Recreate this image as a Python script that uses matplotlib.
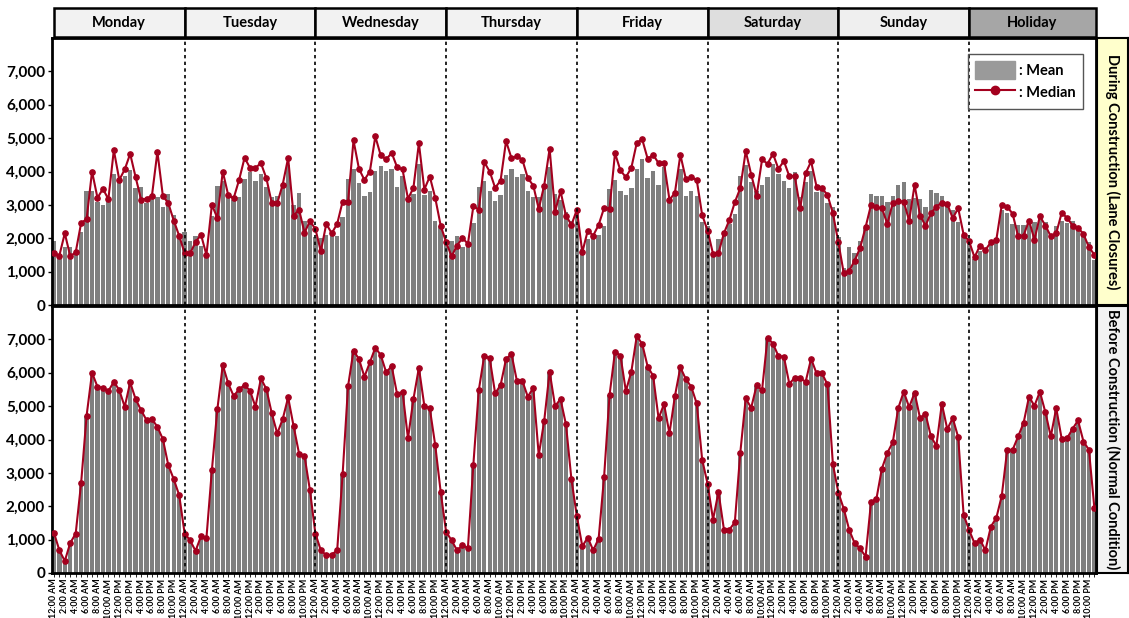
import matplotlib.pyplot as plt
import matplotlib.patches as mpatches
from matplotlib.lines import Line2D
from matplotlib.ticker import FuncFormatter
import numpy as np

plt.rcParams['font.family'] = ['Lato', 'DejaVu Sans']
plt.rcParams['font.weight'] = 'bold'

# Data (hourly traffic volume, 24 values per day)
days = ['Monday', 'Tuesday', 'Wednesday', 'Thursday', 'Friday', 'Saturday', 'Sunday', 'Holiday']
hour_labels = ['12:00 AM', '2:00 AM', '4:00 AM', '6:00 AM', '8:00 AM', '10:00 AM',
               '12:00 PM', '2:00 PM', '4:00 PM', '6:00 PM', '8:00 PM', '10:00 PM']

during_median = [
    [1550, 1480, 2150, 1460, 1580, 2460, 2570, 4000, 3210, 3480, 3170, 4640, 3750, 4060, 4530, 3830, 3160, 3180, 3280, 4590, 3270, 3050, 2530, 2070],
    [1550, 1550, 1880, 2110, 1500, 3000, 2610, 4000, 3290, 3200, 3750, 4410, 4110, 4110, 4250, 3800, 3050, 3050, 3610, 4410, 2670, 2860, 2170, 2510],
    [2280, 1610, 2430, 2150, 2430, 3100, 3100, 4930, 4080, 3750, 4000, 5050, 4480, 4360, 4560, 4130, 4060, 3180, 3510, 4850, 3460, 3850, 3210, 2380],
    [1880, 1460, 1780, 2010, 1830, 2960, 2860, 4280, 4000, 3510, 3730, 4910, 4400, 4460, 4350, 3800, 3580, 2880, 3580, 4680, 2800, 3410, 2680, 2400],
    [2850, 1580, 2230, 2080, 2400, 2910, 2890, 4550, 4030, 3830, 4110, 4860, 4960, 4380, 4500, 4250, 4260, 3150, 3360, 4500, 3780, 3830, 3750, 2700],
    [2230, 1530, 1560, 2150, 2550, 3080, 3500, 4610, 3910, 3280, 4360, 4230, 4530, 4080, 4310, 3860, 3860, 2900, 3950, 4300, 3550, 3500, 3300, 2750],
    [1880, 950, 1030, 1330, 1710, 2330, 3000, 2930, 2900, 2430, 3060, 3110, 3100, 2530, 3600, 2680, 2380, 2750, 2950, 3060, 3030, 2600, 2900, 2110],
    [1910, 1430, 1780, 1650, 1880, 1950, 3000, 2950, 2730, 2060, 2080, 2530, 1960, 2660, 2380, 2060, 2150, 2760, 2610, 2380, 2310, 2130, 1730, 1510],
]
during_mean = [
    [1910, 1500, 1750, 1750, 1580, 2180, 3430, 3430, 3080, 3010, 3080, 3930, 3780, 3880, 4050, 3500, 3540, 3050, 3180, 3250, 2930, 3340, 2700, 2030],
    [2180, 1910, 2070, 1780, 1500, 2680, 3580, 3710, 3210, 3150, 3250, 3780, 3980, 3710, 3930, 3550, 3250, 3280, 3600, 4200, 3000, 3350, 2530, 2530],
    [2030, 2000, 2100, 2080, 2080, 2650, 3780, 4060, 3650, 3280, 3400, 4010, 4160, 4010, 4060, 3530, 3880, 3130, 3330, 4230, 3300, 3430, 2530, 2360],
    [1950, 1930, 2080, 1750, 1880, 2450, 3530, 3710, 3430, 3130, 3300, 3910, 4080, 3850, 3930, 3410, 3230, 3250, 3480, 4130, 3330, 3150, 2780, 2530],
    [2850, 1680, 1980, 2080, 2110, 2380, 3480, 3760, 3430, 3300, 3510, 4060, 4380, 3800, 4010, 3610, 4130, 3080, 3380, 4080, 3280, 3430, 3280, 2480],
    [2380, 1530, 1980, 2230, 2430, 2730, 3860, 4180, 3700, 3430, 3610, 3830, 4210, 3930, 3710, 3500, 3980, 3230, 3700, 4010, 3400, 3480, 3050, 2930],
    [2030, 1100, 1750, 1550, 1930, 2310, 3330, 3280, 3280, 3080, 3280, 3610, 3700, 3180, 3200, 3180, 2950, 3460, 3360, 3280, 3060, 2850, 2500, 2080],
    [1980, 1380, 1630, 1630, 1800, 1880, 2850, 2760, 2430, 2400, 2400, 2550, 2500, 2550, 2500, 2080, 2380, 2530, 2450, 2530, 2310, 2150, 1900, 1350],
]
before_median = [
    [1210, 680, 360, 900, 1180, 2700, 4710, 6000, 5580, 5550, 5450, 5730, 5480, 4980, 5710, 5210, 4880, 4580, 4610, 4380, 4010, 3230, 2810, 2330],
    [1180, 980, 660, 1100, 1050, 3080, 4900, 6230, 5680, 5300, 5510, 5630, 5460, 4980, 5830, 5510, 4780, 4180, 4610, 5260, 4400, 3580, 3510, 2480],
    [1180, 680, 530, 550, 680, 2960, 5600, 6660, 6410, 5880, 6310, 6750, 6530, 6010, 6200, 5360, 5430, 4030, 5210, 6150, 5010, 4930, 3830, 2430],
    [1230, 980, 680, 830, 750, 3250, 5480, 6510, 6430, 5380, 5630, 6410, 6560, 5750, 5750, 5280, 5550, 3530, 4550, 6030, 5000, 5210, 4450, 2810],
    [1700, 800, 1060, 680, 1030, 2880, 5330, 6630, 6510, 5450, 6030, 7100, 6860, 6180, 5910, 4630, 5060, 4180, 5300, 6160, 5810, 5580, 5080, 3400],
    [2670, 1600, 2430, 1300, 1300, 1520, 3600, 5230, 4950, 5620, 5480, 7050, 6870, 6500, 6480, 5670, 5850, 5830, 5730, 6420, 5980, 5980, 5650, 3260],
    [2410, 1920, 1290, 890, 735, 490, 2120, 2230, 3130, 3600, 3920, 4940, 5430, 4970, 5400, 4640, 4770, 4090, 3810, 5070, 4310, 4640, 4070, 1740],
    [1290, 890, 1000, 680, 1390, 1650, 2310, 3690, 3690, 4090, 4490, 5280, 5010, 5430, 4820, 4090, 4940, 4020, 4040, 4320, 4570, 3940, 3690, 1950],
]
before_mean = [
    [1230, 700, 380, 920, 1190, 2720, 4700, 5980, 5570, 5540, 5440, 5720, 5470, 4990, 5690, 5200, 4870, 4570, 4600, 4370, 4000, 3240, 2820, 2340],
    [1200, 990, 680, 1110, 1060, 3090, 4890, 6200, 5670, 5300, 5500, 5620, 5450, 4990, 5810, 5500, 4780, 4190, 4600, 5240, 4400, 3590, 3500, 2490],
    [1190, 700, 550, 570, 700, 2970, 5590, 6640, 6400, 5870, 6300, 6730, 6520, 6000, 6190, 5360, 5420, 4050, 5200, 6130, 5000, 4920, 3840, 2440],
    [1240, 990, 700, 840, 770, 3260, 5470, 6490, 6420, 5380, 5620, 6400, 6540, 5740, 5740, 5280, 5540, 3550, 4550, 6010, 5000, 5200, 4440, 2820],
    [1710, 820, 1070, 700, 1040, 2890, 5320, 6610, 6500, 5450, 6020, 7080, 6840, 6170, 5900, 4640, 5050, 4190, 5290, 6140, 5800, 5570, 5070, 3410],
    [2660, 1610, 2420, 1310, 1310, 1530, 3610, 5220, 4950, 5610, 5470, 7030, 6860, 6490, 6470, 5660, 5840, 5820, 5720, 6400, 5970, 5970, 5640, 3270],
    [2400, 1920, 1300, 900, 750, 510, 2130, 2240, 3130, 3600, 3910, 4930, 5410, 4960, 5380, 4640, 4760, 4090, 3820, 5050, 4310, 4630, 4060, 1760],
    [1300, 900, 1010, 700, 1390, 1650, 2320, 3680, 3680, 4080, 4480, 5260, 5000, 5410, 4810, 4090, 4920, 4020, 4040, 4310, 4560, 3940, 3690, 1960],
]

header_colors = ['#f2f2f2', '#f2f2f2', '#f2f2f2', '#f2f2f2', '#f2f2f2', '#dedede', '#efefef', '#a6a6a6']
row_labels = ['During Construction (Lane Closures)', 'Before Construction (Normal Condition)']
row_colors = ['#ffffcc', '#f2f2f2']

bar_color = '#7f7f7f'
line_color = '#a3001e'
x = np.arange(len(days) * 24)
x_lo, x_hi = -0.35, 191.3

fig = plt.figure(figsize=(11.29, 6.18), dpi=100)
L, W = 52 / 1129, 1044 / 1129
ax_top = fig.add_axes([L, 1 - 305 / 618, W, 267 / 618])
ax_bot = fig.add_axes([L, 1 - 573 / 618, W, 267 / 618])
ax_head = fig.add_axes([L, 1 - 37 / 618, W, 29 / 618])

fmt = FuncFormatter(lambda v, p: f'{int(v):,}')

for ax, mean, med in [(ax_top, during_mean, during_median), (ax_bot, before_mean, before_median)]:
    ax.bar(x, np.concatenate(mean), width=0.8, color=bar_color, zorder=2)
    ax.plot(x, np.concatenate(med), color=line_color, lw=1.5, marker='o', ms=3.8, zorder=4)
    for b in range(24, len(x), 24):
        ax.axvline(b, color='black', ls=(0, (2, 2)), lw=1.2, zorder=5)
    ax.set_xlim(x_lo, x_hi)
    ax.set_ylim(0, 8000)
    ax.set_yticks(range(0, 8000, 1000))
    ax.yaxis.set_major_formatter(fmt)
    ax.tick_params(axis='y', labelsize=11, length=3, width=1, pad=2)
    for s in ax.spines.values():
        s.set_linewidth(2)

ax_top.tick_params(axis='x', bottom=False, labelbottom=False)
ax_bot.set_xticks(np.arange(0, len(x), 2))
ax_bot.set_xticklabels(hour_labels * len(days), rotation=90, fontsize=6.4)
ax_bot.set_xticks(x, minor=True)
ax_bot.tick_params(axis='x', which='both', length=3, width=0.6, pad=1)

# legend with transparent face and visible frame
handles = [mpatches.Patch(facecolor='#9a9a9a', edgecolor='#9a9a9a'),
           Line2D([], [], color=line_color, lw=1.5, marker='o', ms=6)]
leg = ax_top.legend(handles, [': Mean', ': Median'], loc='upper right',
                    bbox_to_anchor=(1083 / 1129, 1 - 54 / 618), bbox_transform=fig.transFigure,
                    borderaxespad=0, fancybox=False, fontsize=10.5,
                    handlelength=2.7, handleheight=1.5, handletextpad=0.3,
                    borderpad=0.5, labelspacing=0.3)
frame = leg.get_frame()
frame.set_alpha(None)
frame.set_facecolor((1, 1, 1, 0))
frame.set_edgecolor('#555555')
frame.set_linewidth(1.0)

# day headers
ax_head.set_xlim(x_lo, x_hi)
ax_head.set_ylim(0, 1)
ax_head.axis('off')
for d, name in enumerate(days):
    left = max(d * 24, x_lo)
    right = min((d + 1) * 24, x_hi)
    ax_head.add_patch(mpatches.Rectangle((left, 0), right - left, 1, facecolor=header_colors[d],
                                         edgecolor='black', lw=1.8, clip_on=False))
    ax_head.text((left + right) / 2, 0.5, name, ha='center', va='center', fontsize=10.5)

# row labels on the right
for i, (label, color) in enumerate(zip(row_labels, row_colors)):
    bottom = [1 - 305 / 618, 1 - 573 / 618][i]
    ax_r = fig.add_axes([1097 / 1129, bottom, 31 / 1129, 267 / 618])
    ax_r.set_facecolor(color)
    ax_r.set_xticks([])
    ax_r.set_yticks([])
    for s in ax_r.spines.values():
        s.set_linewidth(1.5)
    ax_r.text(0.5, 0.5, label, rotation=270, ha='center', va='center',
              fontsize=10.5, transform=ax_r.transAxes)

fig.savefig('out.png', dpi=100)
